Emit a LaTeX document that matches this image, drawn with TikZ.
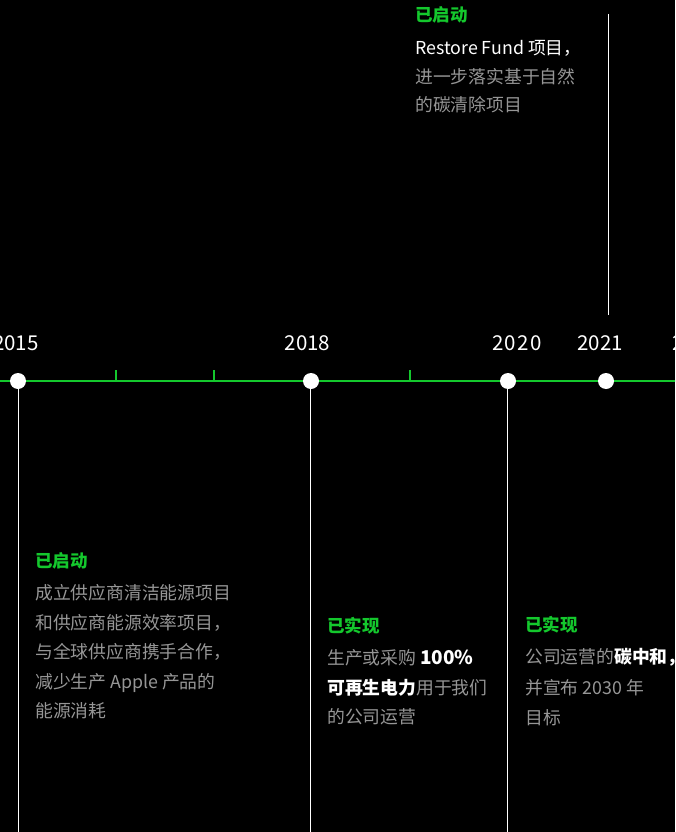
\documentclass[tikz,border=0pt]{standalone}
\usepackage{fontspec}
\setmainfont{Noto Sans CJK SC}
\definecolor{ggreen}{RGB}{20,200,45}
\definecolor{gtext}{RGB}{150,150,150}
\begin{document}
\begin{tikzpicture}[x=1pt,y=-1pt,
  txt/.style={anchor=base west,inner sep=0pt,font=\fontsize{17.8}{20}\selectfont,text=gtext},
  head/.style={anchor=base west,inner sep=0pt,font=\fontsize{17.5}{20}\selectfont\bfseries,text=ggreen},
  year/.style={anchor=base,inner sep=0pt,font=\fontsize{20.5}{22}\selectfont,text=white},
  dot/.style={circle,fill=white,minimum size=16pt,inner sep=0pt},
  vline/.style={white,line width=1pt},
  tick/.style={ggreen,line width=1.5pt}]
\fill[black] (0,0) rectangle (675,832);
\useasboundingbox (0,0) rectangle (675,832);
\clip (0,0) rectangle (675,832);
% timeline
\coordinate (L) at (-5,381);
\coordinate (R) at (680,381);
\draw[ggreen,line width=2pt] (L) -- (R);
\foreach \x/\n in {116/a,214/b,410/c}{
  \coordinate (t\n) at (\x,370);
  \coordinate (u\n) at (\x,381);
  \draw[tick] (t\n) -- (u\n);
}
% vertical connectors
\coordinate (e15) at (18,840);
\coordinate (e18) at (310,840);
\coordinate (e20) at (507,840);
\coordinate (top21) at (608,14);
\coordinate (bot21) at (608,315);
\draw[vline] (18,381) coordinate (s15) -- (e15);
\draw[vline] (310,381) coordinate (s18) -- (e18);
\draw[vline] (507,381) coordinate (s20) -- (e20);
\draw[vline] (top21) -- (bot21);
% dots
\node[dot] (d15) at (18,381) {};
\node[dot] (d18) at (311,381) {};
\node[dot] (d20) at (508,381) {};
\node[dot] (d21) at (606,381) {};
% years
\node[year] (y15) at (16,350) {2015};
\node[year] (y18) at (307.5,350) {2018};
\node[year] (y20) at (517,350) {2\kern1.5pt0\kern1.5pt2\kern1.5pt0};
\node[year] (y21) at (600,350) {2021};
\node[year,anchor=base west] (y22) at (672,350) {2022};
% top block (2021)
\node[head] (h21) at (415,22) {已启动};
\node[txt,text=white] (a1) at (415,55) {Restore Fund 项目，};
\node[txt] (a2) at (415,84) {进一步落实基于自然};
\node[txt] (a3) at (415,112) {的碳清除项目};
% 2015 block
\node[head] (h15) at (35,567) {已启动};
\node[txt] (b1) at (35,599) {成立供应商清洁能源项目};
\node[txt] (b2) at (35,629) {和供应商能源效率项目，};
\node[txt] (b3) at (35,658) {与全球供应商携手合作，};
\node[txt] (b4) at (35,688) {减少生产 Apple 产品的};
\node[txt] (b5) at (35,717) {能源消耗};
% 2018 block
\node[head] (h18) at (327,632) {已实现};
\node[txt] (c1) at (327,664) {生产或采购 \textcolor{white}{\fontsize{19}{20}\selectfont\bfseries 100\%}};
\node[txt] (c2) at (327,694) {\textcolor{white}{\bfseries 可再生电力}用于我们};
\node[txt] (c3) at (327,723) {的公司运营};
% 2020 block
\node[head] (h20) at (525,631) {已实现};
\node[txt] (f1) at (525,663) {公司运营的\textcolor{white}{\bfseries 碳中和，}};
\node[txt] (f2) at (525,694) {并宣布 2030 年};
\node[txt] (f3) at (525,724) {目标};
\end{tikzpicture}
\end{document}
